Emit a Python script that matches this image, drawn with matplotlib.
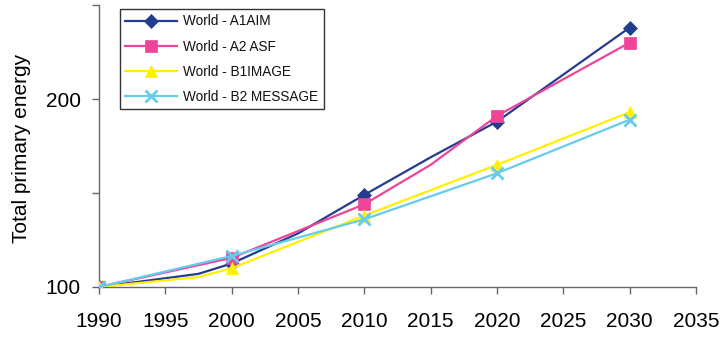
import matplotlib
matplotlib.use("Agg")
import matplotlib.pyplot as plt

plt.rcParams['font.family'] = ['Liberation Sans', 'DejaVu Sans']

# Total primary energy index (1990 = 100) for four world scenarios
years_a1 = [1990, 1997.5, 2000, 2005, 2010, 2015, 2020, 2030]
a1_aim = [100, 107, 112.5, 128.5, 149, 169, 188, 238]

years_a2 = [1990, 2000, 2010, 2015, 2020, 2030]
a2_asf = [100, 115.5, 144, 165, 191, 230]

years_b1 = [1990, 1997.5, 2000, 2010, 2020, 2030]
b1_image = [100, 105.3, 110, 138, 165, 193]

years_b2 = [1990, 2000, 2010, 2020, 2030]
b2_message = [100, 116.5, 136, 160.5, 189]

labels = ["World - A1AIM", "World - A2 ASF", "World - B1IMAGE", "World - B2 MESSAGE"]
colors = ["#233C8E", "#EE4499", "#FFF000", "#66CCEE"]
markers = ["D", "s", "^", "x"]

x_ticks = [1990, 1995, 2000, 2005, 2010, 2015, 2020, 2025, 2030, 2035]
y_ticks = [100, 150, 200, 250]
y_ticklabels = ["100", "", "200", ""]

fig = plt.figure(figsize=(7.23, 3.37), dpi=100)
ax = fig.add_axes([99 / 723, 50 / 337, 597 / 723, 282 / 337])

series = [(years_a1, a1_aim), (years_a2, a2_asf), (years_b1, b1_image), (years_b2, b2_message)]
for (xs, ys), lab, col, mk in zip(series, labels, colors, markers):
    marked = [i for i, yr in enumerate(xs) if float(yr) % 10 == 0]
    ms = 7 if mk == "D" else 8
    ax.plot(xs, ys, color=col, lw=1.6, marker=mk, markevery=marked, ms=ms,
            mew=2 if mk == "x" else 0.5, mec=col, mfc=col, label=lab)

ax.set_xlim(1990, 2035)
ax.set_ylim(100, 250)
ax.set_xticks(x_ticks)
ax.set_yticks(y_ticks)
ax.set_yticklabels(y_ticklabels)

for side in ("top", "right"):
    ax.spines[side].set_visible(False)
for side in ("left", "bottom"):
    ax.spines[side].set_color("#666666")
    ax.spines[side].set_linewidth(1.0)
    ax.spines[side].set_zorder(0)

ax.tick_params(axis="x", direction="out", length=5, width=1, color="#666666",
               labelsize=15, pad=13)
ax.tick_params(axis="y", direction="out", length=5, width=1, color="#666666",
               labelsize=15, pad=8)

fig.text(22 / 723, 1 - 148 / 337, "Total primary energy", rotation=90,
         ha="center", va="center", fontsize=15)

leg = ax.legend(loc="upper left", bbox_to_anchor=(21 / 597, 1 - 4 / 282),
                borderaxespad=0,
                fontsize=9.8, frameon=True, fancybox=False, edgecolor="black",
                handlelength=3.8, labelspacing=0.82, borderpad=0.4,
                handletextpad=0.45)
leg.get_frame().set_linewidth(1.0)
for t in leg.get_texts():
    t.set_color("#111111")

fig.savefig("out.png", dpi=100)
